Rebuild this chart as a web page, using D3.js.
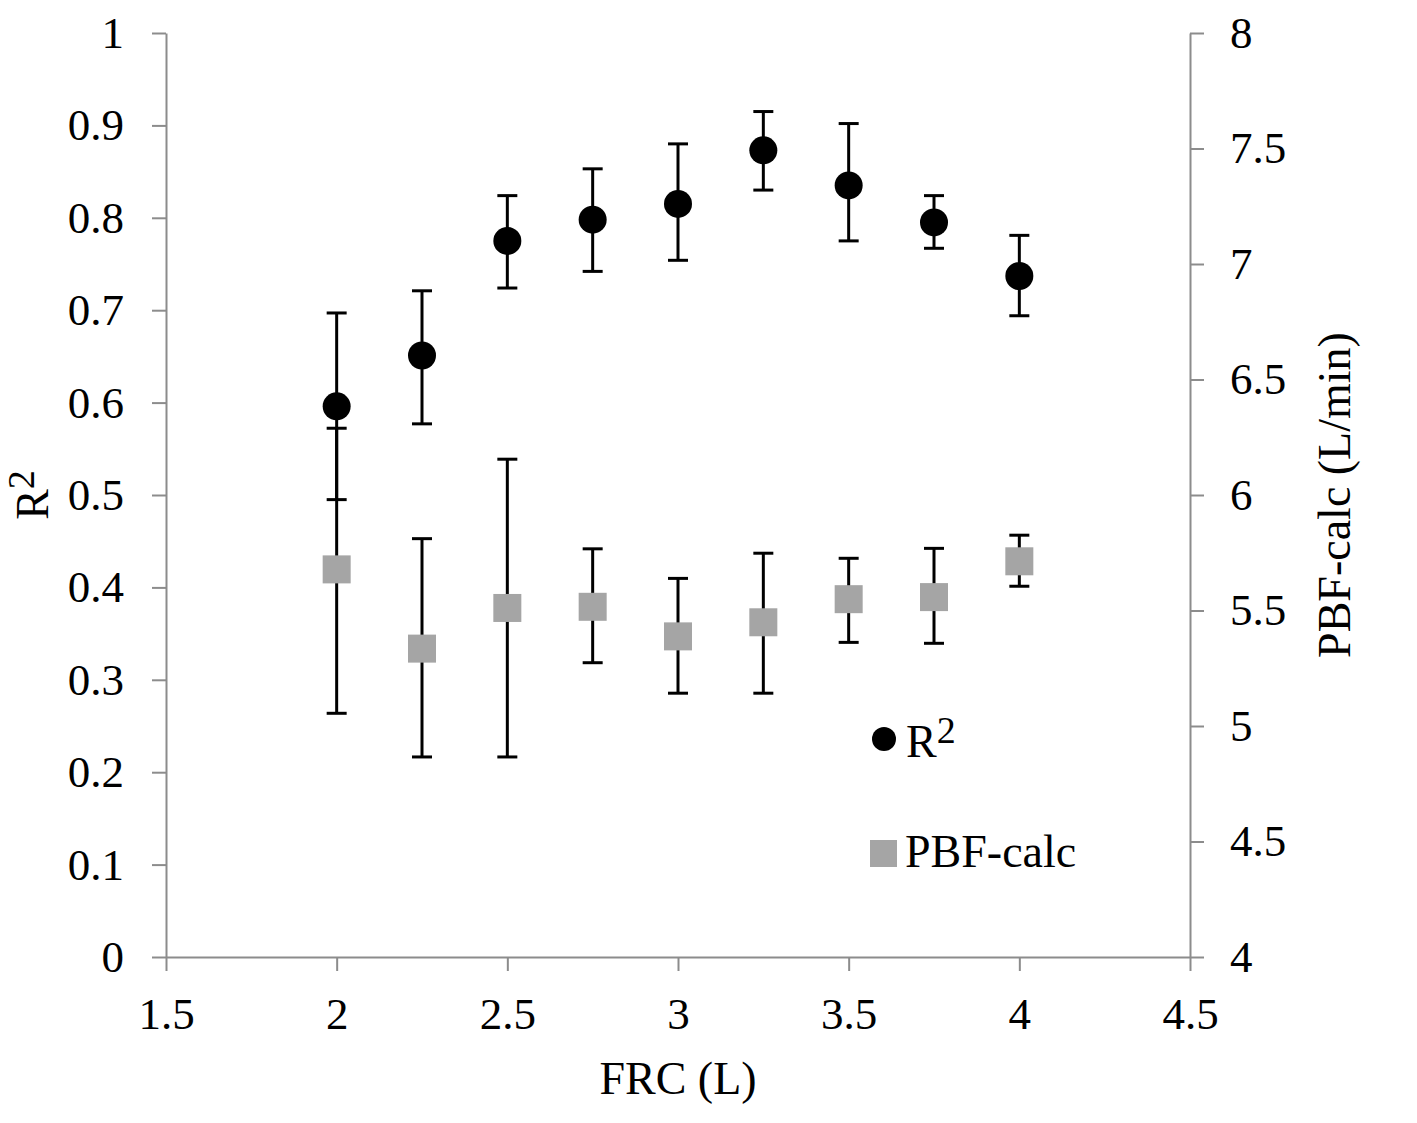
<!DOCTYPE html>
<html><head><meta charset="utf-8">
<script src="https://cdn.jsdelivr.net/npm/d3@7/dist/d3.min.js"></script>
<style>body{margin:0;background:#fff}svg{display:block}</style>
</head><body>
<svg id="c" width="1417" height="1123"></svg>
<script>
const frc = [2, 2.25, 2.5, 2.75, 3, 3.25, 3.5, 3.75, 4];
const r2 = [0.596, 0.651, 0.775, 0.798, 0.815, 0.873, 0.835, 0.795, 0.737];
const r2Hi = [0.697, 0.721, 0.824, 0.853, 0.880, 0.915, 0.902, 0.824, 0.781];
const r2Lo = [0.495, 0.577, 0.724, 0.742, 0.754, 0.830, 0.775, 0.767, 0.694];
const pbf = [5.678, 5.335, 5.511, 5.516, 5.388, 5.449, 5.549, 5.558, 5.713];
const pbfHi = [6.289, 5.811, 6.155, 5.767, 5.639, 5.748, 5.726, 5.769, 5.826];
const pbfLo = [5.055, 4.866, 4.866, 5.274, 5.142, 5.142, 5.362, 5.358, 5.605];
const xTicks = [1.5, 2, 2.5, 3, 3.5, 4, 4.5];
const yLeftTicks = [0, 0.1, 0.2, 0.3, 0.4, 0.5, 0.6, 0.7, 0.8, 0.9, 1];
const yRightTicks = [4, 4.5, 5, 5.5, 6, 6.5, 7, 7.5, 8];

const FONT = '"Liberation Serif","Times New Roman",serif';
const AX = '#8c8c8c';
const svg = d3.select('#c');
const x = d3.scaleLinear().domain([1.5, 4.5]).range([166, 1190]);
const yL = d3.scaleLinear().domain([0, 1]).range([957, 33]);
const yR = d3.scaleLinear().domain([4, 8]).range([957, 33]);

function styleAxis(g){
  g.selectAll('path.domain').attr('stroke', AX).attr('stroke-width', 2);
  g.selectAll('.tick line').attr('stroke', AX).attr('stroke-width', 2);
  g.selectAll('.tick text').attr('fill', '#000').style('font-family', FONT).style('font-size', '45px');
}
const fmt = d => String(d);
const gx = svg.append('g').attr('transform', 'translate(0,957)')
  .call(d3.axisBottom(x).tickValues(xTicks).tickFormat(fmt).tickSize(14).tickSizeOuter(0).tickPadding(26));
styleAxis(gx);
const gl = svg.append('g').attr('transform', 'translate(166,0)')
  .call(d3.axisLeft(yL).tickValues(yLeftTicks).tickFormat(fmt).tickSize(14).tickSizeOuter(0).tickPadding(28));
styleAxis(gl);
const gr = svg.append('g').attr('transform', 'translate(1190,0)')
  .call(d3.axisRight(yR).tickValues(yRightTicks).tickFormat(fmt).tickSize(14).tickSizeOuter(0).tickPadding(26));
styleAxis(gr);

// error bars
function errBars(lo, hi, ys){
  const g = svg.append('g').attr('stroke', '#000').attr('stroke-width', 3);
  frc.forEach((v, i) => {
    const cx = x(v);
    g.append('line').attr('x1', cx).attr('x2', cx).attr('y1', ys(lo[i])).attr('y2', ys(hi[i]));
    g.append('line').attr('x1', cx - 10).attr('x2', cx + 10).attr('y1', ys(lo[i])).attr('y2', ys(lo[i]));
    g.append('line').attr('x1', cx - 10).attr('x2', cx + 10).attr('y1', ys(hi[i])).attr('y2', ys(hi[i]));
  });
}
errBars(r2Lo, r2Hi, yL);
errBars(pbfLo, pbfHi, yR);

svg.append('g').selectAll('circle').data(frc).join('circle')
  .attr('cx', d => x(d)).attr('cy', (d, i) => yL(r2[i])).attr('r', 14).attr('fill', '#000');
svg.append('g').selectAll('rect').data(frc).join('rect')
  .attr('x', d => x(d) - 14).attr('y', (d, i) => yR(pbf[i]) - 14)
  .attr('width', 28).attr('height', 28).attr('fill', '#a5a5a5');

// axis titles
svg.append('text').attr('x', 678).attr('y', 1094).attr('text-anchor', 'middle')
  .style('font-family', FONT).style('font-size', '46px').text('FRC (L)');
const lt = svg.append('text').attr('transform', 'translate(48,495) rotate(-90)').attr('text-anchor', 'middle')
  .style('font-family', FONT).style('font-size', '46px');
lt.append('tspan').text('R');
lt.append('tspan').attr('dy', -14).style('font-size', '38px').text('2');
svg.append('text').attr('transform', 'translate(1350,495) rotate(-90)').attr('text-anchor', 'middle')
  .style('font-family', FONT).style('font-size', '46px').text('PBF-calc (L/min)');

// legend
svg.append('circle').attr('cx', 884).attr('cy', 739).attr('r', 12).attr('fill', '#000');
const l1 = svg.append('text').attr('x', 906).attr('y', 757).style('font-family', FONT).style('font-size', '46px');
l1.append('tspan').text('R');
l1.append('tspan').attr('dy', -14).style('font-size', '38px').text('2');
svg.append('rect').attr('x', 870).attr('y', 840).attr('width', 27).attr('height', 27).attr('fill', '#a5a5a5');
svg.append('text').attr('x', 905).attr('y', 867).style('font-family', FONT).style('font-size', '46px').text('PBF-calc');
</script>
</body></html>
